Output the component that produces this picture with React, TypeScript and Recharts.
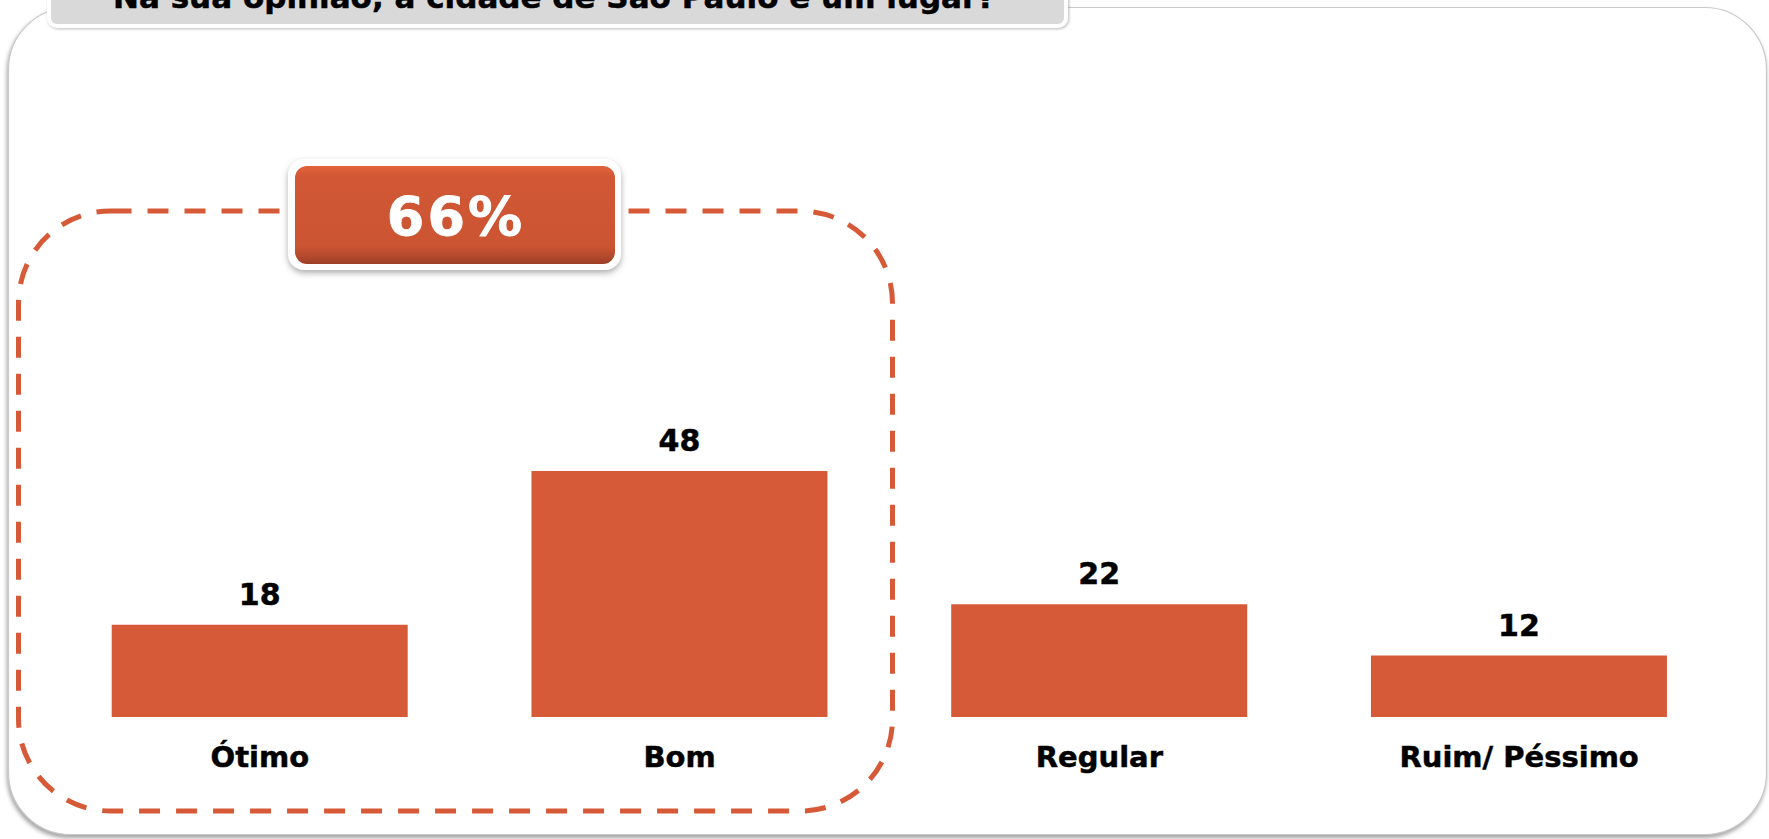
import React from 'react';
import { BarChart, Bar, XAxis, YAxis, LabelList } from 'recharts';

// ---- data ----
const TITLE = 'Na sua opinião, a cidade de São Paulo é um lugar?';
const categories = ['Ótimo', 'Bom', 'Regular', 'Ruim/ Péssimo'];
const values = [18, 48, 22, 12];
const yDomain = [0, 60];
// the badge sums the first two categories (Ótimo + Bom)
const highlightedCount = 2;

const data = categories.map((c, i) => ({ name: c, value: values[i] }));
const highlightTotal = values.slice(0, highlightedCount).reduce((a, b) => a + b, 0);

const W = 1769;
const H = 839;
const ORANGE = '#D65A38';
const FONT = '"DejaVu Sans", Verdana, sans-serif';

function Background() {
  return (
    <svg width={W} height={H} style={{ position: 'absolute', left: 0, top: 0 }}>
      <defs>
        <filter id="panelShadow" x="-5%" y="-5%" width="110%" height="110%">
          <feDropShadow dx="-1" dy="3" stdDeviation="2" floodColor="#7a7a7a" floodOpacity="0.7" />
        </filter>
        <filter id="tabShadow" x="-5%" y="-50%" width="110%" height="200%">
          <feDropShadow dx="1" dy="1" stdDeviation="1.5" floodColor="#9a9a9a" floodOpacity="0.7" />
        </filter>
        <filter id="badgeShadow" x="-10%" y="-20%" width="120%" height="150%">
          <feDropShadow dx="0" dy="3" stdDeviation="3" floodColor="#6b6b6b" floodOpacity="0.55" />
        </filter>
        <linearGradient id="badgeGrad" x1="0" y1="0" x2="0" y2="1">
          <stop offset="0" stopColor="#E4623D" />
          <stop offset="0.1" stopColor="#D25835" />
          <stop offset="0.82" stopColor="#CB5432" />
          <stop offset="0.92" stopColor="#B44A2D" />
          <stop offset="1" stopColor="#9C3F27" />
        </linearGradient>
      </defs>
      {/* main panel */}
      <rect x={8.5} y={7.5} width={1758} height={827} rx={62} ry={62}
        fill="#ffffff" stroke="#c9c9c9" strokeWidth={1.2} filter="url(#panelShadow)" />
      {/* title tab */}
      <rect x={49} y={-30} width={1017} height={56} rx={8} ry={8}
        fill="#D9D9D9" stroke="#ffffff" strokeWidth={4} filter="url(#tabShadow)" />
      <text x={113} y={8} fontFamily={FONT} fontWeight="bold" fontSize={31} fill="#000"
        stroke="#000" strokeWidth={0.5}>
        {TITLE}
      </text>
      {/* dashed grouping box */}
      <rect x={18.5} y={211} width={874} height={600} rx={92} ry={92}
        fill="none" stroke={ORANGE} strokeWidth={5} strokeDasharray="21 16" />
      {/* badge */}
      <rect x={288} y={159} width={333} height={111} rx={16} ry={16}
        fill="#ffffff" filter="url(#badgeShadow)" />
      <rect x={295} y={166} width={320} height={98} rx={12} ry={12} fill="url(#badgeGrad)" />
      <text x={456} y={235} textAnchor="middle" fontFamily={FONT} fontWeight="bold"
        fontSize={54} letterSpacing={3} fill="#ffffff" stroke="#ffffff" strokeWidth={0.8}>
        {`${highlightTotal}%`}
      </text>
    </svg>
  );
}

const labelStyle = {
  fontSize: 30,
  fontWeight: 'bold',
  fill: '#000',
  fontFamily: FONT,
  stroke: '#000',
  strokeWidth: 0.5,
};

export default function App() {
  return (
    <div style={{ position: 'absolute', left: 0, top: 0, width: W, height: H, overflow: 'hidden', background: '#fff' }}>
      <Background />
      <div style={{ position: 'absolute', left: 0, top: 0 }}>
        <BarChart
          width={W}
          height={H}
          data={data}
          margin={{ top: 409.5, right: 40, bottom: 62, left: 50 }}
          barCategoryGap="14.7%"
        >
          <YAxis hide domain={yDomain} />
          <XAxis
            dataKey="name"
            axisLine={false}
            tickLine={false}
            tickSize={0}
            tickMargin={29}
            height={60}
            interval={0}
            tick={{ fontSize: 29, fontWeight: 'bold', fill: '#000', fontFamily: FONT, stroke: '#000', strokeWidth: 0.5 }}
          />
          <Bar dataKey="value" fill={ORANGE} isAnimationActive={false}>
            <LabelList dataKey="value" position="top" offset={20} style={labelStyle} />
          </Bar>
        </BarChart>
      </div>
    </div>
  );
}
